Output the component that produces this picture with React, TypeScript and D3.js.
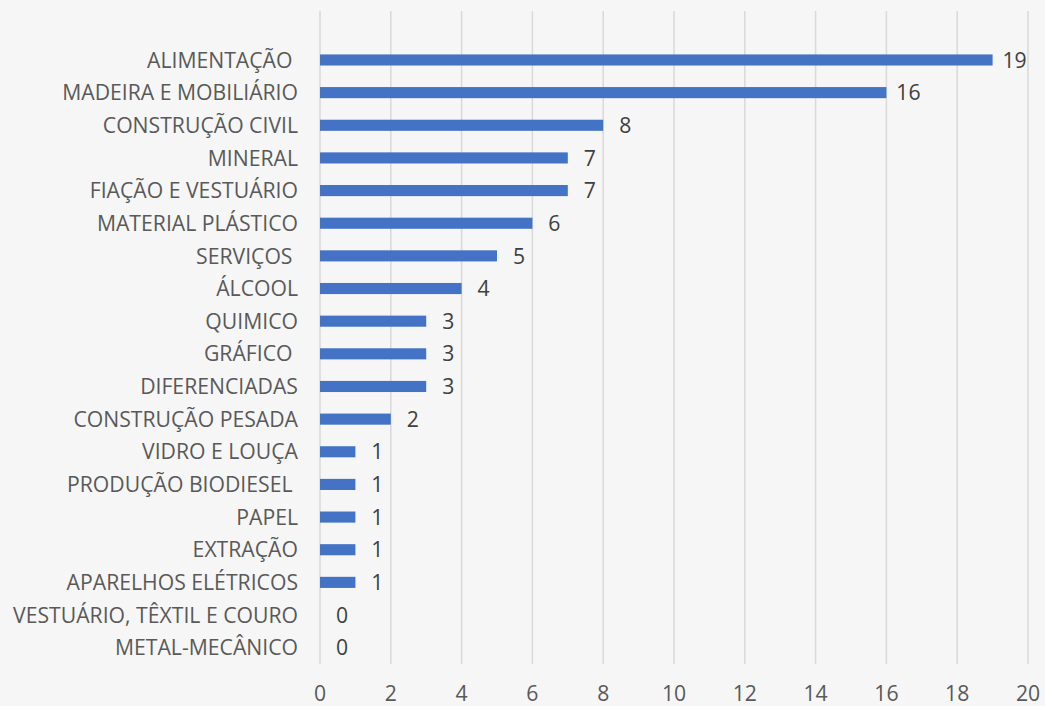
import * as d3 from "d3";
import { useRef, useEffect } from "react";

const categories = [
  "",
  "ALIMENTAÇÃO ",
  "MADEIRA E MOBILIÁRIO",
  "CONSTRUÇÃO CIVIL",
  "MINERAL",
  "FIAÇÃO E VESTUÁRIO",
  "MATERIAL PLÁSTICO",
  "SERVIÇOS ",
  "ÁLCOOL",
  "QUIMICO",
  "GRÁFICO ",
  "DIFERENCIADAS",
  "CONSTRUÇÃO PESADA",
  "VIDRO E LOUÇA",
  "PRODUÇÃO BIODIESEL ",
  "PAPEL",
  "EXTRAÇÃO",
  "APARELHOS ELÉTRICOS",
  "VESTUÁRIO, TÊXTIL E COURO",
  "METAL-MECÂNICO",
];
const values: (number | null)[] = [null, 19, 16, 8, 7, 7, 6, 5, 4, 3, 3, 3, 2, 1, 1, 1, 1, 1, 0, 0];
const xTicks = [0, 2, 4, 6, 8, 10, 12, 14, 16, 18, 20];

const App = () => {
  const ref = useRef<SVGSVGElement>(null);

  useEffect(() => {
    const W = 1045;
    const H = 706;
    const margin = { left: 320, right: 17, top: 11, bottom: 42 };
    const svg = d3.select(ref.current);
    svg.selectAll("*").remove();

    svg.append("rect").attr("width", W).attr("height", H).attr("fill", "#f6f6f6");

    const x = d3.scaleLinear().domain([0, 20]).range([margin.left, W - margin.right]);
    const y = d3
      .scaleBand<string>()
      .domain(categories.map((c, i) => i + ""))
      .range([margin.top, H - margin.bottom])
      .paddingInner(0.66)
      .paddingOuter(0.33);

    const font = "'Open Sans', sans-serif";
    const fs = 21.2;

    // gridlines
    svg
      .append("g")
      .selectAll("line")
      .data(xTicks)
      .join("line")
      .attr("x1", (d) => x(d))
      .attr("x2", (d) => x(d))
      .attr("y1", margin.top)
      .attr("y2", H - margin.bottom)
      .attr("stroke", "#d9d9d9")
      .attr("stroke-width", 1.5);

    // x tick labels
    svg
      .append("g")
      .selectAll("text")
      .data(xTicks)
      .join("text")
      .attr("x", (d) => x(d))
      .attr("y", 701)
      .attr("text-anchor", "middle")
      .attr("font-family", font)
      .attr("font-size", fs)
      .attr("fill", "#595959")
      .text((d) => d);

    const rows = categories.map((c, i) => ({ c, v: values[i], k: i + "" }));

    // bars
    svg
      .append("g")
      .selectAll("rect")
      .data(rows.filter((r) => r.v !== null && r.v > 0))
      .join("rect")
      .attr("x", x(0))
      .attr("y", (d) => y(d.k)!)
      .attr("width", (d) => x(d.v!) - x(0))
      .attr("height", y.bandwidth())
      .attr("fill", "#4472c4");

    // value labels
    svg
      .append("g")
      .selectAll("text")
      .data(rows.filter((r) => r.v !== null))
      .join("text")
      .attr("x", (d) => x(d.v!) + 22)
      .attr("y", (d) => y(d.k)! + y.bandwidth() / 2)
      .attr("dy", "0.36em")
      .attr("text-anchor", "middle")
      .attr("font-family", font)
      .attr("font-size", fs)
      .attr("fill", "#404040")
      .text((d) => d.v!);

    // category labels
    svg
      .append("g")
      .selectAll("text")
      .data(rows)
      .join("text")
      .attr("x", 298)
      .attr("y", (d) => y(d.k)! + y.bandwidth() / 2)
      .attr("dy", "0.36em")
      .attr("text-anchor", "end")
      .attr("font-family", font)
      .attr("font-size", fs)
      .attr("fill", "#595959")
      .style("white-space", "pre")
      .text((d) => d.c);
  }, []);

  return (
    <div style={{ position: "fixed", left: 0, top: 0 }}>
      <svg ref={ref} width={1045} height={706} style={{ display: "block" }} />
    </div>
  );
};

export default App;
